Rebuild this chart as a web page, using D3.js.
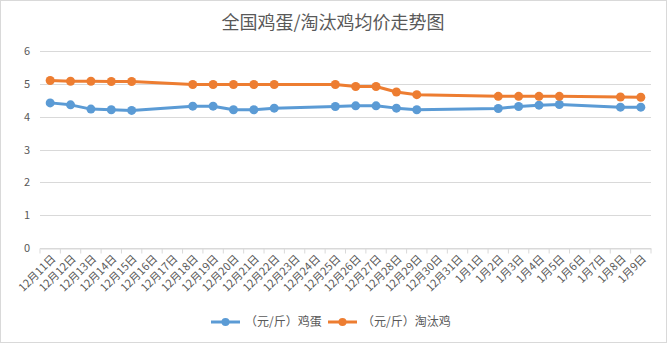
<!DOCTYPE html>
<html><head><meta charset="utf-8">
<script src="https://cdn.jsdelivr.net/npm/d3@7"></script>
<style>
html,body{margin:0;padding:0;background:#fff;}
svg{display:block;font-family:"Noto Sans CJK SC","Microsoft YaHei",sans-serif;}
</style></head>
<body><svg id="c" width="667" height="343"></svg>
<script>
const categories = ["12月11日","12月12日","12月13日","12月14日","12月15日","12月16日","12月17日","12月18日","12月19日","12月20日","12月21日","12月22日","12月23日","12月24日","12月25日","12月26日","12月27日","12月28日","12月29日","12月30日","12月31日","1月1日","1月2日","1月3日","1月4日","1月5日","1月6日","1月7日","1月8日","1月9日"];
const eggValues = [4.42,4.36,4.23,4.21,4.19,null,null,4.32,4.32,4.21,4.21,4.26,null,null,4.31,4.33,4.33,4.26,4.21,null,null,null,4.25,4.31,4.35,4.37,null,null,4.29,4.29];
const henValues = [5.10,5.08,5.08,5.07,5.07,null,null,4.98,4.98,4.98,4.98,4.98,null,null,4.98,4.92,4.92,4.75,4.67,null,null,null,4.62,4.62,4.62,4.62,null,null,4.60,4.59];
const seriesNames = ["（元/斤）鸡蛋","（元/斤）淘汰鸡"];
const yTicks = [0,1,2,3,4,5,6];
const title = "全国鸡蛋/淘汰鸡均价走势图";
const colors = ["#5B9BD5","#ED7D31"];

(function(){
const svg = d3.select("#c");
svg.append("rect").attr("x",0.5).attr("y",0.5).attr("width",666).attr("height",342)
  .attr("fill","#fff").attr("stroke","#d9d9d9");

const pl=40, pr=651, pt=51, pb=248;
const x = d3.scaleBand().domain(categories).range([pl,pr]).padding(0);
const y = d3.scaleLinear().domain([0,6]).range([pb,pt]);

svg.append("text").attr("x",333).attr("y",29).attr("text-anchor","middle")
  .attr("font-size",18).attr("fill","#595959").text(title);

// grid
svg.append("g").selectAll("line").data(yTicks).join("line")
  .attr("x1",pl).attr("x2",pr)
  .attr("y1",d=>Math.round(y(d))+0.5).attr("y2",d=>Math.round(y(d))+0.5)
  .attr("stroke","#d9d9d9").attr("stroke-width",1);
svg.append("g").selectAll("text").data(yTicks).join("text")
  .attr("x",30).attr("y",d=>y(d)+4).attr("text-anchor","end")
  .attr("font-size",11).attr("fill","#595959").text(d=>d);

// x axis
const xAxis = d3.axisBottom(x).tickSize(5).tickSizeOuter(0).tickFormat(d=>d);
const gx = svg.append("g").attr("transform",`translate(0,${Math.round(pb)+0.5})`).call(xAxis);
gx.select(".domain").attr("stroke","#d9d9d9");
gx.selectAll(".tick line").attr("stroke","#d9d9d9").attr("transform",`translate(${-x.bandwidth()/2},0)`);
gx.append("line").attr("x1",pr).attr("x2",pr).attr("y1",0).attr("y2",5).attr("stroke","#d9d9d9");
gx.selectAll(".tick text").attr("font-size",11).attr("fill","#595959")
  .attr("font-family",'"Noto Sans CJK SC",sans-serif')
  .attr("text-anchor","end").attr("dy",0).attr("y",0)
  .attr("transform","translate(6,11) rotate(-45)");

// lines
const all = [eggValues, henValues];
all.forEach((vals,i)=>{
  const pts = categories.map((c,j)=>({c,v:vals[j]})).filter(d=>d.v!=null);
  const line = d3.line().x(d=>x(d.c)+x.bandwidth()/2).y(d=>y(d.v));
  svg.append("path").datum(pts).attr("d",line).attr("fill","none")
    .attr("stroke",colors[i]).attr("stroke-width",3).attr("stroke-linejoin","round").attr("stroke-linecap","round");
  svg.append("g").selectAll("circle").data(pts).join("circle")
    .attr("cx",d=>x(d.c)+x.bandwidth()/2).attr("cy",d=>y(d.v)).attr("r",4.5)
    .attr("fill",colors[i]);
});

// legend
const lg = [{x:211,tx:245},{x:328,tx:362}];
seriesNames.forEach((n,i)=>{
  const g = svg.append("g");
  g.append("line").attr("x1",lg[i].x).attr("x2",lg[i].x+29).attr("y1",322).attr("y2",322)
    .attr("stroke",colors[i]).attr("stroke-width",3);
  g.append("circle").attr("cx",lg[i].x+14.5).attr("cy",322).attr("r",4).attr("fill",colors[i]);
  g.append("text").attr("x",lg[i].tx).attr("y",326).attr("font-size",12).attr("fill","#595959").text(n);
});
})();
</script></body></html>
